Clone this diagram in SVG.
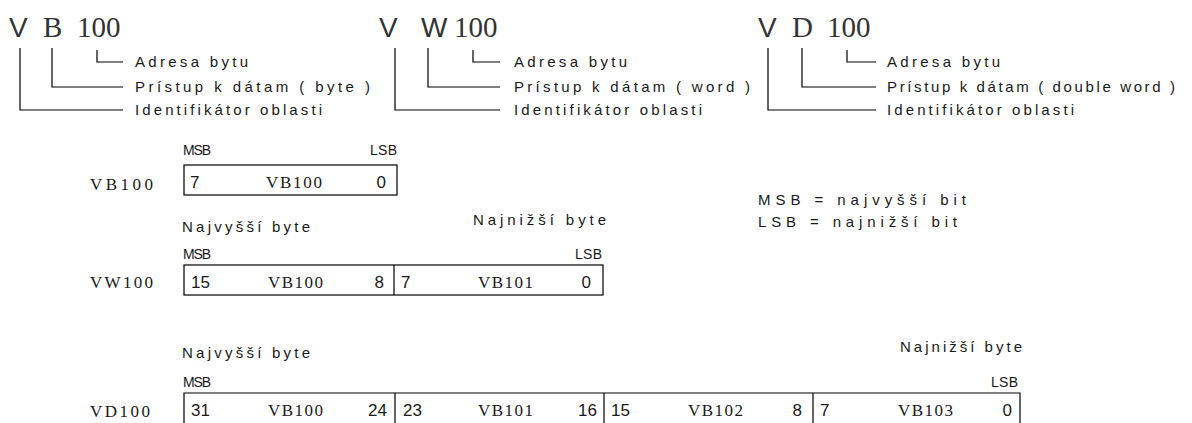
<svg xmlns="http://www.w3.org/2000/svg" width="1192" height="423" viewBox="0 0 1192 423">
  <style>
    .bg { fill: #ffffff; }
    .ln { stroke: #000; stroke-width: 1.2; fill: none; }
    .ttl { font-family: "Liberation Serif", serif; font-size: 29px; fill: #333; }
    .ttv { font-family: "Liberation Sans", sans-serif; font-size: 28px; fill: #333; }
    .note { font-family: "Liberation Sans", sans-serif; font-size: 15px; fill: #1a1a1a; }
    .cell { font-family: "Liberation Sans", sans-serif; font-size: 17px; fill: #1a1a1a; }
    .reg { font-family: "Liberation Serif", serif; font-size: 17px; fill: #1a1a1a; }
    .tag { font-family: "Liberation Sans", sans-serif; font-size: 14px; fill: #1a1a1a; }
  </style>
  <rect class="bg" x="0" y="0" width="1192" height="423"/>

  <!-- address format legends -->
  <g id="fmt-byte">
    <text class="ttv" x="9" y="37">V</text>
    <text class="ttl" x="43" y="37">B</text>
    <text class="ttl" x="77" y="37">100</text>
    <text class="note" x="135" y="67" textLength="113" lengthAdjust="spacing">Adresa bytu</text>
    <text class="note" x="135" y="92" textLength="235" lengthAdjust="spacing">Prístup k dátam ( byte )</text>
    <text class="note" x="135" y="115" textLength="187" lengthAdjust="spacing">Identifikátor oblasti</text>
  </g>
  <g id="fmt-word">
    <text class="ttv" x="379" y="37">V</text>
    <text class="ttv" x="421" y="37">W</text>
    <text class="ttl" x="454" y="37">100</text>
    <text class="note" x="514" y="67" textLength="113" lengthAdjust="spacing">Adresa bytu</text>
    <text class="note" x="514" y="92" textLength="236" lengthAdjust="spacing">Prístup k dátam ( word )</text>
    <text class="note" x="514" y="115" textLength="188" lengthAdjust="spacing">Identifikátor oblasti</text>
  </g>
  <g id="fmt-dword">
    <text class="ttv" x="758" y="37">V</text>
    <text class="ttl" x="792" y="37">D</text>
    <text class="ttl" x="827" y="37">100</text>
    <text class="note" x="887" y="67" textLength="113" lengthAdjust="spacing">Adresa bytu</text>
    <text class="note" x="887" y="92" textLength="288" lengthAdjust="spacing">Prístup k dátam ( double word )</text>
    <text class="note" x="887" y="115" textLength="187" lengthAdjust="spacing">Identifikátor oblasti</text>
  </g>

  <!-- leader lines -->
  <g id="connectors">
    <path class="ln" d="M20,48 V110 H123 M52,48 V87 H123 M97,50 V62 H123"/>
    <path class="ln" d="M395,48 V110 H500 M428,48 V87 H500 M473,50 V62 H500"/>
    <path class="ln" d="M768,48 V110 H876 M802,48 V87 H876 M847,50 V62 H876"/>
  </g>

  <!-- byte VB100 -->
  <g id="row-vb">
    <text class="reg" x="90" y="190" textLength="63" lengthAdjust="spacing">VB100</text>
    <text class="tag" x="183" y="155" textLength="28" lengthAdjust="spacing">MSB</text>
    <text class="tag" x="370" y="155" textLength="27" lengthAdjust="spacing">LSB</text>
    <rect class="ln" x="184" y="165" width="213" height="30"/>
    <text class="cell" x="190" y="188">7</text>
    <text class="reg" x="266" y="188" textLength="56" lengthAdjust="spacing">VB100</text>
    <text class="cell" x="386" y="188" text-anchor="end">0</text>
  </g>

  <!-- bit legend -->
  <g id="legend">
    <text class="note" x="758" y="205" textLength="208" lengthAdjust="spacing">MSB = najvyšší bit</text>
    <text class="note" x="758" y="227" textLength="199" lengthAdjust="spacing">LSB = najnižší bit</text>
  </g>

  <!-- word VW100 -->
  <g id="row-vw">
    <text class="note" x="182" y="232" textLength="128" lengthAdjust="spacing">Najvyšší byte</text>
    <text class="note" x="473" y="225" textLength="133" lengthAdjust="spacing">Najnižší byte</text>
    <text class="tag" x="183" y="259" textLength="28" lengthAdjust="spacing">MSB</text>
    <text class="tag" x="575" y="259" textLength="27" lengthAdjust="spacing">LSB</text>
    <text class="reg" x="90" y="288" textLength="63" lengthAdjust="spacing">VW100</text>
    <rect class="ln" x="184" y="265" width="419" height="30"/>
    <line class="ln" x1="394" y1="265" x2="394" y2="295"/>
    <text class="cell" x="191" y="288">15</text>
    <text class="reg" x="268" y="288" textLength="55" lengthAdjust="spacing">VB100</text>
    <text class="cell" x="384" y="288" text-anchor="end">8</text>
    <text class="cell" x="401" y="288">7</text>
    <text class="reg" x="478" y="288" textLength="55" lengthAdjust="spacing">VB101</text>
    <text class="cell" x="591" y="288" text-anchor="end">0</text>
  </g>

  <!-- double word VD100 -->
  <g id="row-vd">
    <text class="note" x="182" y="358" textLength="128" lengthAdjust="spacing">Najvyšší byte</text>
    <text class="note" x="900" y="352" textLength="122" lengthAdjust="spacing">Najnižší byte</text>
    <text class="tag" x="183" y="387" textLength="28" lengthAdjust="spacing">MSB</text>
    <text class="tag" x="991" y="387" textLength="27" lengthAdjust="spacing">LSB</text>
    <text class="reg" x="90" y="417" textLength="60" lengthAdjust="spacing">VD100</text>
    <path class="ln" d="M184,430 V393 H1020 V430 M395,393 V430 M604,393 V430 M813,393 V430"/>
    <text class="cell" x="191" y="416">31</text>
    <text class="reg" x="268" y="416" textLength="55" lengthAdjust="spacing">VB100</text>
    <text class="cell" x="387" y="416" text-anchor="end">24</text>
    <text class="cell" x="403" y="416">23</text>
    <text class="reg" x="478" y="416" textLength="55" lengthAdjust="spacing">VB101</text>
    <text class="cell" x="597" y="416" text-anchor="end">16</text>
    <text class="cell" x="611" y="416">15</text>
    <text class="reg" x="688" y="416" textLength="55" lengthAdjust="spacing">VB102</text>
    <text class="cell" x="802" y="416" text-anchor="end">8</text>
    <text class="cell" x="820" y="416">7</text>
    <text class="reg" x="898" y="416" textLength="55" lengthAdjust="spacing">VB103</text>
    <text class="cell" x="1012" y="416" text-anchor="end">0</text>
  </g>
</svg>
